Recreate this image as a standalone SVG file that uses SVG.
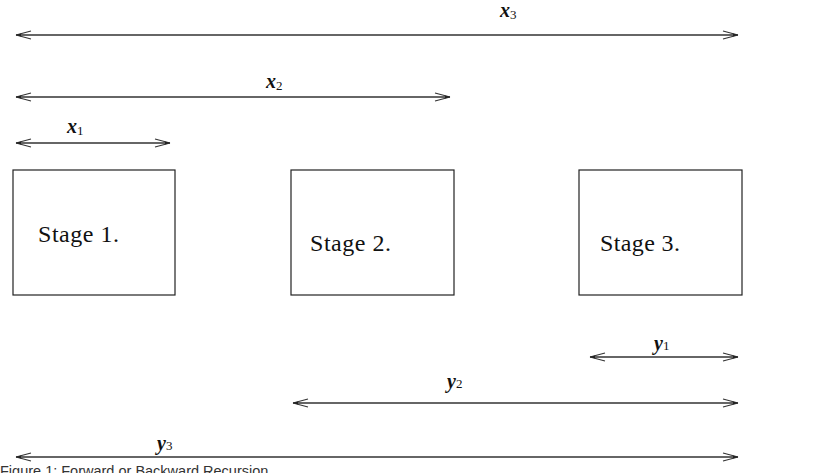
<svg xmlns="http://www.w3.org/2000/svg" width="825" height="473" viewBox="0 0 825 473">
<style>
.box{fill:none;stroke:#222;stroke-width:1.2}
.ln{fill:none;stroke:#333;stroke-width:1.3}
.stg{font-family:"Liberation Serif",serif;font-size:24px;fill:#111}
.lbl{font-family:"Liberation Serif",serif;font-style:italic;font-weight:bold;font-size:20px;fill:#111}
.sub{font-family:"Liberation Serif",serif;font-style:normal;font-weight:normal;font-size:13px}
.cap{font-family:"Liberation Sans",sans-serif;font-size:14.5px;fill:#333}
</style>
<defs>
<marker id="ah" viewBox="-17 -6 18 12" refX="0" refY="0" markerWidth="18" markerHeight="12" markerUnits="userSpaceOnUse" orient="auto-start-reverse">
<path d="M0,0 L-15,-4 M0,0 L-15,4" fill="none" stroke="#333" stroke-width="1.1"/>
<path d="M0,0 L-5,-1.5 L-5,1.5 Z" fill="#222"/>
</marker>
</defs>
<rect width="825" height="473" fill="#fff"/>
<g id="stage1"><rect class="box" x="13" y="170" width="162" height="125"/><text class="stg" x="38" y="242" textLength="81">Stage 1.</text></g>
<g id="stage2"><rect class="box" x="291" y="170" width="163" height="125"/><text class="stg" x="310" y="251" textLength="81">Stage 2.</text></g>
<g id="stage3"><rect class="box" x="579" y="170" width="163" height="125"/><text class="stg" x="600" y="251" textLength="80">Stage 3.</text></g>
<g id="connectors">
<line class="ln" x1="16" y1="35" x2="738" y2="35" marker-start="url(#ah)" marker-end="url(#ah)"/>
<line class="ln" x1="16" y1="97" x2="450" y2="97" marker-start="url(#ah)" marker-end="url(#ah)"/>
<line class="ln" x1="16" y1="143" x2="170" y2="143" marker-start="url(#ah)" marker-end="url(#ah)"/>
<line class="ln" x1="590" y1="357" x2="738" y2="357" marker-start="url(#ah)" marker-end="url(#ah)"/>
<line class="ln" x1="293" y1="403" x2="738" y2="403" marker-start="url(#ah)" marker-end="url(#ah)"/>
<line class="ln" x1="16" y1="457" x2="738" y2="457" marker-start="url(#ah)" marker-end="url(#ah)"/>
</g>
<g id="labels">
<text class="lbl" x="500" y="17">x<tspan class="sub" dy="2">3</tspan></text>
<text class="lbl" x="266" y="88">x<tspan class="sub" dy="2">2</tspan></text>
<text class="lbl" x="67" y="133">x<tspan class="sub" dy="2">1</tspan></text>
<text class="lbl" x="654" y="350">y<tspan class="sub">1</tspan></text>
<text class="lbl" x="447" y="388">y<tspan class="sub">2</tspan></text>
<text class="lbl" x="157" y="450">y<tspan class="sub">3</tspan></text>
</g>
<text class="cap" x="0" y="476">Figure 1: Forward or Backward Recursion</text>
</svg>
